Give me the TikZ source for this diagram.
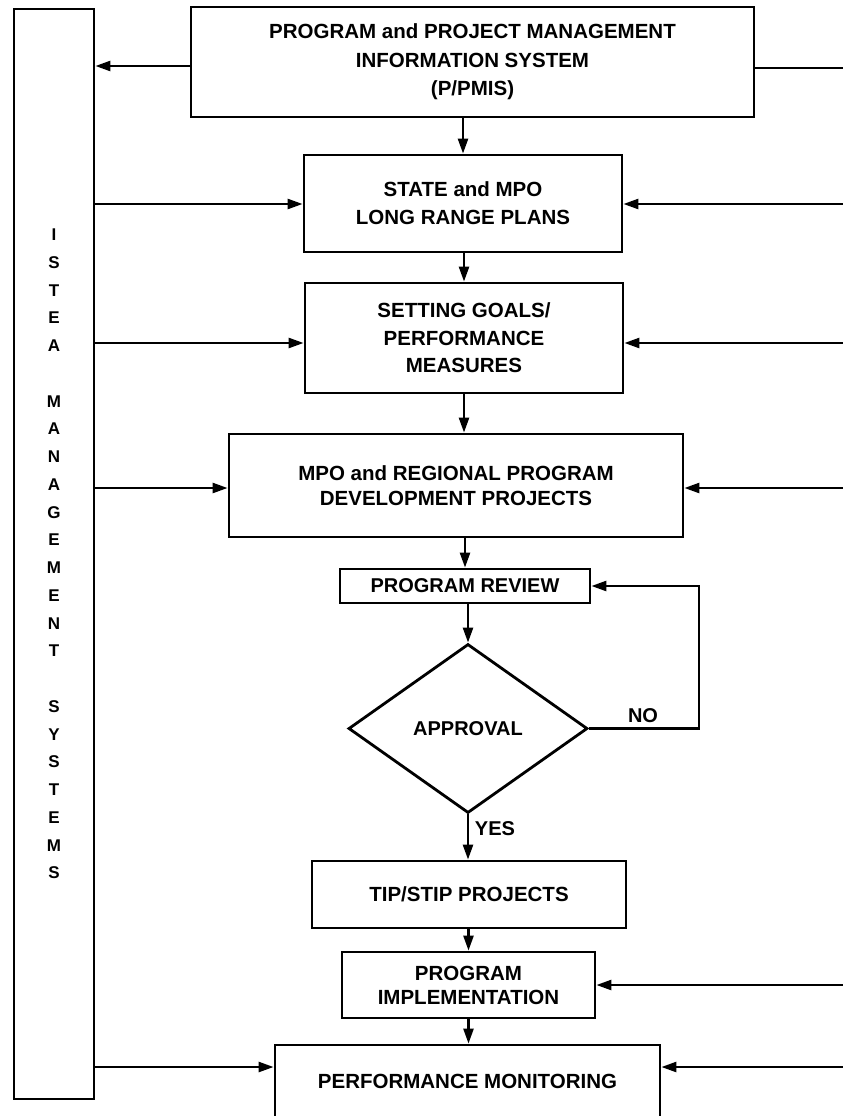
\documentclass[tikz,border=0pt]{standalone}
\usepackage{fontspec}
\setmainfont{Liberation Sans}
\usetikzlibrary{arrows.meta,shapes.geometric}
\begin{document}
\begin{tikzpicture}[x=1pt,y=-1pt,
  box/.style={draw, line width=2.8pt, inner sep=0pt, align=center,
    font=\fontsize{20.5}{28}\selectfont\bfseries},
  arr/.style={line width=2.5pt, -{Triangle[length=15pt,width=10pt]}},
  link/.style={line width=2.5pt},
  lbl/.style={font=\fontsize{20}{24}\selectfont\bfseries, inner sep=0pt}]
\fill[white] (0,0) rectangle (843,1116);
\useasboundingbox (0,0) rectangle (843,1116);

% management systems column
\node[box, minimum width=80pt, minimum height=1090pt,
  font=\fontsize{17}{27.74}\selectfont\bfseries] (ist) at (54,554)
  {I\\S\\T\\E\\A\\[27.74pt]M\\A\\N\\A\\G\\E\\M\\E\\N\\T\\[27.74pt]S\\Y\\S\\T\\E\\M\\S};

% process boxes
\node[box, minimum width=563pt, minimum height=110pt,
  font=\fontsize{20.5}{28.5}\selectfont\bfseries] (pmis) at (472.5,62)
  {PROGRAM and PROJECT MANAGEMENT\\INFORMATION SYSTEM\\(P/PMIS)};
\node[box, minimum width=318pt, minimum height=97pt] (state) at (463,203.5)
  {STATE and MPO\\LONG RANGE PLANS};
\node[box, minimum width=318pt, minimum height=110pt,
  font=\fontsize{20.5}{27.5}\selectfont\bfseries] (setting) at (464,338)
  {SETTING GOALS/\\PERFORMANCE\\MEASURES};
\node[box, minimum width=454pt, minimum height=103pt,
  font=\fontsize{20.5}{24.5}\selectfont\bfseries] (mpo) at (456,485.5)
  {MPO and REGIONAL PROGRAM\\DEVELOPMENT PROJECTS};
\node[box, minimum width=250pt, minimum height=34pt,
  font=\fontsize{20}{24}\selectfont\bfseries] (rev) at (465,586)
  {PROGRAM REVIEW};
\node[box, diamond, minimum width=239pt, minimum height=169pt,
  font=\fontsize{20}{24}\selectfont\bfseries] (dia) at (468,728.5)
  {APPROVAL};
\node[box, minimum width=314pt, minimum height=67pt] (tip) at (469,894.5)
  {TIP/STIP PROJECTS};
\node[box, minimum width=253pt, minimum height=66pt,
  font=\fontsize{20.5}{24}\selectfont\bfseries] (impl) at (468.5,985)
  {PROGRAM\\IMPLEMENTATION};
\node[box, minimum width=385pt, minimum height=73pt] (perf) at (467.5,1081.5)
  {PERFORMANCE MONITORING};

% main flow
\draw[arr] (pmis.south -| state.north) -- (state.north);
\draw[arr] (state.south -| setting.north) -- (setting.north);
\draw[arr] (setting.south) -- (setting.south |- mpo.north);
\draw[arr] (mpo.south -| rev.north) -- (rev.north);
\draw[arr] (rev.south -| dia.north) -- (dia.north);
\draw[arr] (dia.south) -- (dia.south |- tip.north);
\draw[arr] (tip.south -| impl.north) -- (impl.north);
\draw[arr] (impl.south) -- (impl.south |- perf.north);

% rejection loop
\coordinate (nox) at (699,0);
\draw[arr] (dia.east) -- (dia.east -| nox) -- (rev.east -| nox) -- (rev.east);
\node[lbl] (no) at (643,716) {NO};
\node[lbl] (yes) at (495,829) {YES};

% side feeds
\coordinate (y0) at (843,66);
\coordinate (y0r) at (843,68);
\coordinate (y1) at (843,204);
\coordinate (y2) at (843,343);
\coordinate (y3) at (843,488);
\coordinate (y5) at (843,985);
\coordinate (y6) at (843,1067);

\draw[arr] (y0 -| pmis.west) -- (y0 -| ist.east);
\draw[link] (y0r -| pmis.east) -- (y0r);

\draw[arr] (y1 -| ist.east) -- (y1 -| state.west);
\draw[arr] (y1) -- (y1 -| state.east);
\draw[arr] (y2 -| ist.east) -- (y2 -| setting.west);
\draw[arr] (y2) -- (y2 -| setting.east);
\draw[arr] (y3 -| ist.east) -- (y3 -| mpo.west);
\draw[arr] (y3) -- (y3 -| mpo.east);
\draw[arr] (y5) -- (y5 -| impl.east);
\draw[arr] (y6 -| ist.east) -- (y6 -| perf.west);
\draw[arr] (y6) -- (y6 -| perf.east);
\end{tikzpicture}
\end{document}
